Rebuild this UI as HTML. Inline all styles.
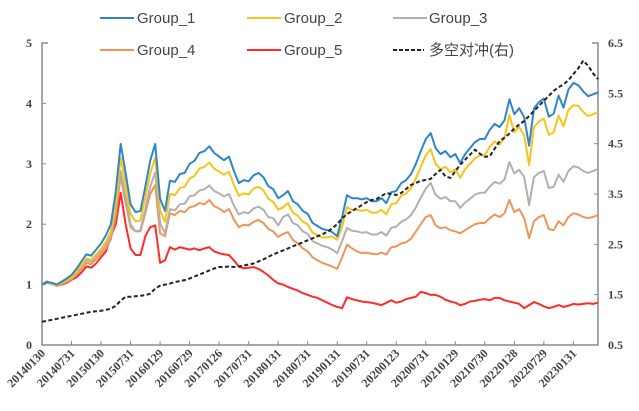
<!DOCTYPE html>
<html><head><meta charset="utf-8"><style>
html,body{margin:0;padding:0;background:#fff;}
svg{display:block;}
.lg{font-family:"Liberation Sans Narrow","Liberation Sans","Noto Sans CJK SC",sans-serif;font-size:15px;fill:#444;}
.tk{font-family:"Liberation Serif",serif;font-weight:bold;font-size:12px;fill:#444;}
</style></head><body>
<svg id="chart" width="639" height="411" viewBox="0 0 639 411">
<g id="legend">
 <g><line x1="100" y1="18" x2="134" y2="18" stroke="#2e86c8" stroke-width="2"/><text class="lg" x="137" y="23">Group_1</text></g>
 <g><line x1="247" y1="18" x2="281" y2="18" stroke="#f5c518" stroke-width="2"/><text class="lg" x="284" y="23">Group_2</text></g>
 <g><line x1="393" y1="18" x2="427" y2="18" stroke="#b0b0b0" stroke-width="2"/><text class="lg" x="429" y="23">Group_3</text></g>
 <g><line x1="100" y1="50" x2="134" y2="50" stroke="#f0955a" stroke-width="2"/><text class="lg" x="137" y="55">Group_4</text></g>
 <g><line x1="247" y1="50" x2="281" y2="50" stroke="#ff2a2a" stroke-width="2"/><text class="lg" x="284" y="55">Group_5</text></g>
 <g><line x1="393" y1="50" x2="424" y2="50" stroke="#222" stroke-width="2" stroke-dasharray="4,2"/><text class="lg" x="429" y="55">多空对冲(右)</text></g>
</g>
<g id="axes"></g>
<g id="series"></g>
</svg>
<script>
const xLabels=["20140130","20140731","20150130","20150731","20160129","20160729","20170126","20170731","20180131","20180731","20190131","20190731","20200123","20200731","20210129","20210730","20220128","20220729","20230131"];
const leftTicks=[0,1,2,3,4,5];
const rightTicks=[0.5,1.5,2.5,3.5,4.5,5.5,6.5];
const group1=[1.00,1.04,1.03,1.00,1.05,1.10,1.16,1.26,1.38,1.50,1.48,1.58,
1.68,1.82,2.00,2.55,3.33,2.85,2.33,2.20,2.22,2.62,3.05,3.33,
2.42,2.22,2.72,2.70,2.83,2.85,3.00,3.05,3.18,3.21,3.29,3.18,
3.12,3.06,3.12,2.88,2.68,2.73,2.71,2.81,2.85,2.78,2.63,2.58,
2.43,2.48,2.55,2.38,2.33,2.22,2.17,2.02,1.97,1.92,1.90,1.87,
1.80,2.12,2.48,2.43,2.43,2.41,2.43,2.38,2.38,2.43,2.35,2.53,
2.55,2.68,2.73,2.83,3.00,3.21,3.41,3.51,3.26,3.16,3.21,3.11,
3.16,3.01,3.16,3.26,3.36,3.41,3.41,3.56,3.66,3.61,3.72,4.07,
3.82,3.92,3.77,3.30,3.92,4.02,4.08,3.78,3.83,4.13,3.93,4.23,
4.34,4.30,4.20,4.12,4.15,4.18];
const group2=[1.00,1.03,1.02,0.99,1.03,1.07,1.12,1.21,1.32,1.43,1.41,1.50,
1.59,1.71,1.88,2.37,3.10,2.65,2.17,2.05,2.06,2.44,2.84,3.10,
2.23,2.04,2.50,2.48,2.60,2.62,2.76,2.80,2.92,2.95,3.02,2.92,
2.87,2.82,2.87,2.65,2.47,2.51,2.49,2.59,2.62,2.56,2.42,2.37,
2.24,2.28,2.35,2.19,2.14,2.04,2.00,1.86,1.82,1.78,1.78,1.80,
1.74,1.96,2.28,2.24,2.24,2.22,2.24,2.19,2.19,2.24,2.16,2.33,
2.35,2.47,2.51,2.60,2.76,2.95,3.14,3.24,3.00,2.91,2.95,2.86,
2.91,2.77,2.91,3.00,3.09,3.14,3.14,3.28,3.37,3.32,3.42,3.81,
3.52,3.61,3.47,2.98,3.61,3.70,3.75,3.48,3.52,3.80,3.62,3.89,
3.97,3.96,3.86,3.79,3.82,3.86];
const group3=[1.00,1.03,1.02,0.99,1.02,1.06,1.11,1.19,1.30,1.40,1.38,1.47,
1.55,1.66,1.81,2.25,2.88,2.45,2.00,1.88,1.90,2.25,2.62,2.86,
2.02,1.85,2.25,2.23,2.33,2.34,2.46,2.48,2.56,2.58,2.64,2.55,
2.51,2.46,2.50,2.31,2.16,2.20,2.18,2.26,2.29,2.24,2.12,2.10,
1.98,2.12,2.16,2.02,1.98,1.88,1.84,1.72,1.68,1.64,1.62,1.58,
1.52,1.72,1.94,1.89,1.88,1.86,1.87,1.83,1.83,1.87,1.81,1.94,
1.96,2.04,2.08,2.15,2.28,2.44,2.59,2.68,2.49,2.42,2.45,2.38,
2.38,2.27,2.36,2.42,2.49,2.52,2.52,2.62,2.70,2.67,2.74,3.03,
2.84,2.90,2.78,2.32,2.78,2.85,2.88,2.60,2.62,2.82,2.70,2.88,
2.96,2.94,2.88,2.85,2.88,2.91];
const group4=[1.00,1.03,1.01,0.98,1.01,1.05,1.09,1.16,1.26,1.36,1.34,1.42,
1.50,1.60,1.75,2.15,2.80,2.35,1.95,1.88,1.88,2.18,2.50,2.65,
1.85,1.80,2.18,2.15,2.22,2.20,2.28,2.30,2.35,2.33,2.40,2.30,
2.26,2.20,2.25,2.08,1.95,1.99,1.98,2.04,2.07,2.02,1.92,1.88,
1.79,1.84,1.87,1.74,1.68,1.60,1.55,1.45,1.40,1.36,1.33,1.30,
1.26,1.45,1.66,1.60,1.55,1.52,1.53,1.51,1.50,1.53,1.50,1.62,
1.63,1.68,1.70,1.76,1.88,2.00,2.12,2.15,1.98,1.93,1.95,1.90,
1.88,1.85,1.90,1.95,2.00,2.02,2.02,2.10,2.16,2.12,2.18,2.40,
2.20,2.25,2.10,1.77,2.05,2.12,2.15,1.92,1.90,2.05,1.98,2.12,
2.18,2.16,2.12,2.10,2.12,2.15];
const group5=[1.00,1.05,1.02,0.98,1.00,1.03,1.08,1.12,1.20,1.30,1.28,1.35,
1.45,1.55,1.80,2.00,2.52,2.00,1.60,1.49,1.49,1.80,1.95,1.98,
1.36,1.40,1.62,1.58,1.62,1.60,1.58,1.60,1.57,1.60,1.62,1.55,
1.52,1.50,1.49,1.40,1.30,1.27,1.28,1.29,1.26,1.21,1.15,1.08,
1.02,1.00,0.96,0.93,0.90,0.86,0.83,0.80,0.78,0.74,0.70,0.66,
0.63,0.61,0.79,0.76,0.74,0.72,0.71,0.70,0.68,0.66,0.70,0.74,
0.70,0.72,0.76,0.78,0.80,0.88,0.86,0.83,0.83,0.80,0.75,0.72,
0.70,0.66,0.68,0.72,0.73,0.75,0.76,0.74,0.78,0.78,0.74,0.72,
0.70,0.68,0.61,0.66,0.71,0.68,0.64,0.61,0.63,0.66,0.63,0.65,
0.68,0.67,0.68,0.69,0.68,0.70];
const longShort=[0.96,0.98,1.00,1.02,1.04,1.06,1.08,1.10,1.12,1.14,1.16,1.17,
1.18,1.20,1.22,1.28,1.38,1.46,1.46,1.47,1.48,1.49,1.52,1.62,
1.68,1.70,1.72,1.75,1.77,1.79,1.82,1.86,1.90,1.94,1.98,2.02,
2.05,2.05,2.06,2.05,2.06,2.08,2.10,2.12,2.16,2.20,2.25,2.30,
2.34,2.38,2.42,2.46,2.50,2.54,2.58,2.62,2.66,2.70,2.75,2.82,
2.90,3.02,3.10,3.16,3.22,3.28,3.34,3.38,3.40,3.46,3.52,3.50,
3.48,3.52,3.60,3.68,3.72,3.76,3.78,3.80,3.90,3.98,3.85,3.82,
3.95,4.08,4.18,4.28,4.38,4.30,4.24,4.25,4.40,4.55,4.62,4.70,
4.80,4.88,4.95,5.05,5.15,5.25,5.35,5.45,5.55,5.62,5.68,5.76,
5.88,6.00,6.15,6.05,5.90,5.78];

const NS="http://www.w3.org/2000/svg";
const L=42,R=598,T=43,B=345,MW=(R-L-4)/112.2;
const xi=i=>L+i*4.92;
const yl=v=>B-(v/5)*(B-T);
const yr=v=>B-((v-0.5)/6)*(B-T);
function mk(tag,attrs,parent){const e=document.createElementNS(NS,tag);for(const k in attrs)e.setAttribute(k,attrs[k]);parent.appendChild(e);return e;}
const ax=document.getElementById('axes');
const ac="#8a8a8a";
let e;
e=mk('path',{d:`M${L+6},${T} H${L} V${B} H${R} V${T} H${R-6}`,fill:'none',stroke:ac,'stroke-width':1.5},ax);


leftTicks.forEach(v=>{
 const y=yl(v);
 const t=mk('text',{x:L-10,y:y+4,'text-anchor':'end',class:'tk'},ax);t.textContent=String(v);
 
 
 if(v>0&&v<5){const m=mk('line',{x1:L,x2:L+4,y1:y,y2:y,stroke:ac},ax);
 
 }
});
rightTicks.forEach(v=>{
 const y=yr(v);
 const t=mk('text',{x:R+10,y:y+4,class:'tk'},ax);t.textContent=v.toFixed(1);
 
 
 if(v>0.5&&v<6.5){const m=mk('line',{x1:R-4,x2:R,y1:y,y2:y,stroke:ac},ax);
 
 }
});
xLabels.forEach((s,k)=>{
 const x=xi(k*6);
 const m=mk('line',{x1:x,x2:x,y1:B,y2:B-4,stroke:ac},ax);
 
 
 const t=mk('text',{x:x+4,y:B+9,'text-anchor':'end',class:'tk',transform:`rotate(-45 ${x+4} ${B+9})`},ax);
 t.textContent=s;
 
 
});
const sg=document.getElementById('series');
function line(arr,yf,color,name,dash){
 const d=arr.map((v,i)=>(i?'L':'M')+xi(i).toFixed(1)+','+yf(v).toFixed(1)).join(' ');
 const p=mk('path',{d:d,fill:'none',stroke:color,'stroke-width':2,'stroke-linejoin':'round'},sg);
 if(dash)p.setAttribute('stroke-dasharray',dash);
 
 
}
line(group5,yl,'#ff2a2a','line-group-5');
line(group4,yl,'#f0955a','line-group-4');
line(group3,yl,'#b0b0b0','line-group-3');
line(group2,yl,'#f5c518','line-group-2');
line(group1,yl,'#2e86c8','line-group-1');
line(longShort,yr,'#222','line-long-short','4,2.5');
</script>
</body></html>
